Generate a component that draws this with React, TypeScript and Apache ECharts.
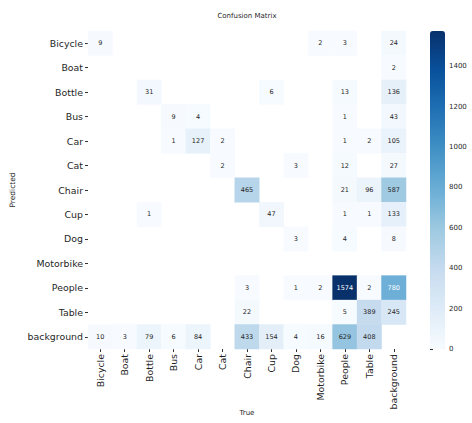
import React, { useEffect, useRef } from "react";
import * as echarts from "echarts";

// Class names shared by both axes (True along x, Predicted along y)
const classes = [
  "Bicycle", "Boat", "Bottle", "Bus", "Car", "Cat", "Chair",
  "Cup", "Dog", "Motorbike", "People", "Table", "background",
];

// Counts per predicted class (row), one entry per true class (column); 0 = empty cell
const rowBicycle = [9, 0, 0, 0, 0, 0, 0, 0, 0, 2, 3, 0, 24];
const rowBoat = [0, 0, 0, 0, 0, 0, 0, 0, 0, 0, 0, 0, 2];
const rowBottle = [0, 0, 31, 0, 0, 0, 0, 6, 0, 0, 13, 0, 136];
const rowBus = [0, 0, 0, 9, 4, 0, 0, 0, 0, 0, 1, 0, 43];
const rowCar = [0, 0, 0, 1, 127, 2, 0, 0, 0, 0, 1, 2, 105];
const rowCat = [0, 0, 0, 0, 0, 2, 0, 0, 3, 0, 12, 0, 27];
const rowChair = [0, 0, 0, 0, 0, 0, 465, 0, 0, 0, 21, 96, 587];
const rowCup = [0, 0, 1, 0, 0, 0, 0, 47, 0, 0, 1, 1, 133];
const rowDog = [0, 0, 0, 0, 0, 0, 0, 0, 3, 0, 4, 0, 8];
const rowMotorbike = [0, 0, 0, 0, 0, 0, 0, 0, 0, 0, 0, 0, 0];
const rowPeople = [0, 0, 0, 0, 0, 0, 3, 0, 1, 2, 1574, 2, 780];
const rowTable = [0, 0, 0, 0, 0, 0, 22, 0, 0, 0, 5, 389, 245];
const rowBackground = [10, 3, 79, 6, 84, 0, 433, 154, 4, 16, 629, 408, 0];

const matrix = [
  rowBicycle, rowBoat, rowBottle, rowBus, rowCar, rowCat, rowChair,
  rowCup, rowDog, rowMotorbike, rowPeople, rowTable, rowBackground,
];

// Colour bar tick values
const colorbarTicks = [0, 200, 400, 600, 800, 1000, 1200, 1400];

// matplotlib "Blues"
const blues = [
  "#f7fbff", "#deebf7", "#c6dbef", "#9ecae1", "#6baed6",
  "#4292c6", "#2171b5", "#08519c", "#08306b",
];

const FONT = "DejaVu Sans";
const TEXT = "#1f1f1f";

export default function App() {
  const ref = useRef<HTMLDivElement>(null);

  useEffect(() => {
    if (!ref.current) return;
    const chart = echarts.init(ref.current, undefined, { renderer: "svg" });

    const maxValue = Math.max(...matrix.map((r) => Math.max(...r)));

    const cells: any[] = [];
    matrix.forEach((row, yi) => {
      row.forEach((v, xi) => {
        if (v === 0) return;
        cells.push({
          value: [xi, yi, v],
          label: { color: v / maxValue > 0.47 ? "#ffffff" : "#262626" },
        });
      });
    });

    const caption = (text: string, x: number, y: number, size: number) => ({
      type: "text",
      x,
      y,
      style: {
        text,
        align: "center",
        verticalAlign: "middle",
        fontFamily: FONT,
        fontSize: size,
        fill: TEXT,
      },
    });

    chart.setOption({
      animation: false,
      backgroundColor: "#ffffff",
      textStyle: { fontFamily: FONT },
      graphic: [
        caption("Confusion Matrix", 247, 16, 7),
        caption("True", 247, 413, 7),
      ],
      grid: [
        { left: 88, top: 31, width: 318, height: 318, outerBoundsMode: "none", containLabel: false },
        { left: 430, top: 31, width: 15, height: 318, outerBoundsMode: "none", containLabel: false },
      ],
      xAxis: [
        {
          type: "category",
          gridIndex: 0,
          data: classes,
          position: "bottom",
          axisLine: { show: false },
          axisTick: { show: true, alignWithLabel: true, length: 3, lineStyle: { color: "#333" } },
          axisLabel: { rotate: 90, fontSize: 9.4, color: TEXT, margin: 5, fontFamily: FONT },
          splitLine: { show: false },
          splitArea: { show: false },
        },
        {
          type: "value",
          gridIndex: 1,
          show: false,
          min: 0,
          max: 1,
        },
      ],
      yAxis: [
        {
          type: "category",
          gridIndex: 0,
          data: classes,
          inverse: true,
          name: "Predicted",
          nameLocation: "middle",
          nameGap: 72,
          nameTextStyle: { fontSize: 7.5, color: TEXT, fontFamily: FONT },
          axisLine: { show: false },
          axisTick: { show: true, alignWithLabel: true, length: 3, lineStyle: { color: "#333" } },
          axisLabel: { fontSize: 9.4, color: TEXT, margin: 5, fontFamily: FONT },
          splitLine: { show: false },
          splitArea: { show: false },
        },
        {
          type: "value",
          gridIndex: 1,
          position: "right",
          min: 0,
          max: maxValue,
          axisLine: { show: false },
          axisTick: {
            show: true,
            length: 3,
            customValues: colorbarTicks,
            lineStyle: { color: "#333" },
          },
          axisLabel: {
            fontSize: 7,
            color: TEXT,
            margin: 4,
            fontFamily: FONT,
            customValues: colorbarTicks,
            formatter: (v: number) => String(v),
          },
          splitLine: { show: false },
        },
      ],
      visualMap: {
        type: "continuous",
        seriesIndex: 0,
        min: 0,
        max: maxValue,
        calculable: false,
        orient: "vertical",
        left: 430,
        top: 31,
        padding: 0,
        itemWidth: 15,
        itemHeight: 318,
        inRange: { color: blues },
        hoverLink: false,
      },
      series: [
        {
          type: "heatmap",
          xAxisIndex: 0,
          yAxisIndex: 0,
          data: cells,
          label: {
            show: true,
            fontSize: 6.5,
            fontFamily: FONT,
            formatter: (p: any) => String(p.value[2]),
          },
          itemStyle: { borderWidth: 0 },
          emphasis: { disabled: true },
        },
      ],
    });

    return () => chart.dispose();
  }, []);

  return (
    <div
      ref={ref}
      style={{ position: "fixed", left: 0, top: 0, width: 472, height: 423 }}
    />
  );
}
